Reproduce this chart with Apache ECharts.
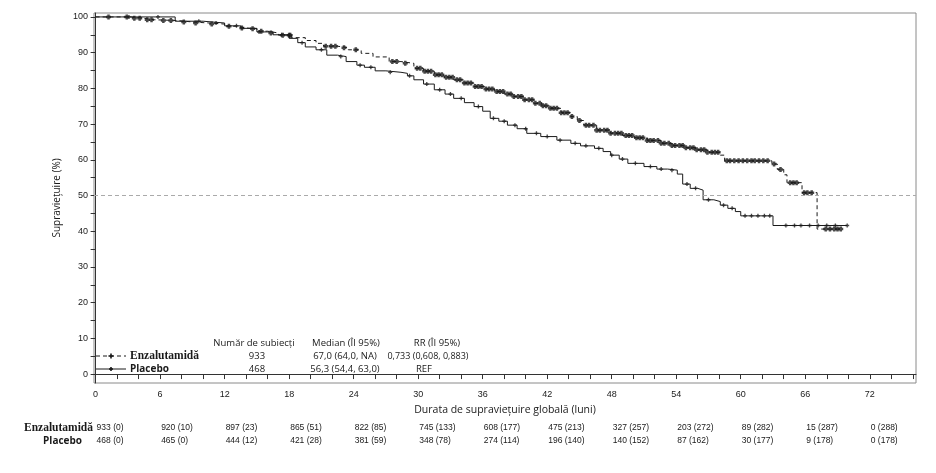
<!DOCTYPE html>
<html>
<head>
<meta charset="utf-8">
<script src="https://cdn.jsdelivr.net/npm/echarts@6/dist/echarts.min.js"></script>
<style>
html,body{margin:0;padding:0;background:#fff;}
#Charts{width:936px;height:473px;}
</style>
</head>
<body>
<div id="Charts"></div>
<script>
// Kaplan-Meier steps (months, survival %)
var enzTime = [0,3.3,4.5,5.5,7.5,9,10.5,12,13,14,15,16,17,18.2,19.5,20.5,21.2,22.5,23.5,24.7,25.8,27.3,28.4,29.6,30.5,31.5,32.4,33.3,34.2,35.2,36.2,37.1,38,38.9,39.8,40.8,41.5,42.3,43.3,44.2,44.8,45.4,46.6,47.9,49,50.1,51.3,52.6,53.6,54.7,55.8,56.9,58.1,58.5,62.9,63.4,64.0,64.3,65.7,67.1,69.3];
var enzSurv = [100,99.6,99.2,99.0,98.6,98.3,98.0,97.4,96.9,96.7,96.0,95.5,94.9,94.2,93.4,92.6,91.8,91.4,90.8,89.8,88.8,87.5,87.0,85.6,84.8,83.8,83.1,82.4,81.5,80.5,79.8,79.1,78.4,77.7,76.8,75.8,75.1,74.4,73.2,72.1,71.0,69.7,68.3,67.4,66.8,66.2,65.4,64.6,64.0,63.4,62.8,62.1,61.3,59.7,58.8,57.3,55.8,53.6,50.8,40.6,40.6];
var plaTime = [0,7.4,10,12,13.5,15,16.5,18,18.8,19.5,20.5,21.5,22.5,23.3,24.3,25,26,27,28.4,29,29.6,30.5,31.5,32.5,33.3,34.3,35.2,36,36.7,37.5,38.3,39.2,40.1,41.4,42.9,44.2,45.1,46.4,47.2,47.9,48.7,49.5,51,52.2,53.2,54.1,54.6,55.3,56,56.5,57.5,58.1,58.8,59.5,60,63,69.9];
var plaSurv = [100,98.8,98.3,97.5,96.8,95.8,95.0,94.0,92.8,91.6,90.8,89.3,88.9,87.5,86.5,85.9,84.9,84.5,84.2,83.5,82.4,81.2,79.6,78.4,77.2,76.0,74.9,73.6,71.6,70.8,69.7,68.7,67.4,66.5,65.5,64.6,63.9,63.2,62.3,61.3,60.2,59.0,58.1,57.4,57.1,56.0,53.2,52.0,51.5,48.8,48.3,47.3,46.4,45.5,44.3,41.6,41.6];

// censoring marks (months)
var enzCensor = [1.2,2.9,3.6,4.1,4.8,5.2,6.3,7.0,8.2,9.3,10.8,12.4,13.6,14.6,15.4,16.3,17.4,18.0,18.1,21.4,21.9,22.3,23.1,24.2,27.6,28.0,28.8,29.9,30.2,30.6,30.9,31.2,31.6,31.9,32.2,32.6,32.9,33.2,33.6,33.9,34.3,34.6,34.9,35.3,35.6,35.9,36.3,36.6,36.9,37.3,37.6,37.9,38.3,38.6,38.9,39.3,39.6,39.9,40.3,40.6,40.9,41.3,41.6,41.9,42.3,42.6,42.9,43.3,43.6,43.9,44.3,45.0,45.6,45.9,46.3,46.6,46.9,47.3,47.6,47.9,48.3,48.6,48.9,49.3,49.6,49.9,50.3,50.6,50.9,51.3,51.6,51.9,52.3,52.6,52.9,53.3,53.6,53.9,54.3,54.6,54.9,55.3,55.6,55.9,56.3,56.6,56.9,57.3,57.6,57.9,58.7,59.0,59.4,59.8,60.2,60.6,61.0,61.3,61.7,62.1,62.5,63.1,63.7,64.6,64.9,65.2,65.9,66.2,66.6,67.9,68.3,68.7,69.0,69.3];
var plaCensor = [3.1,5.8,9.6,11.2,13.1,15.2,17.3,19.2,21.0,22.8,24.6,25.6,27.4,29.2,30.8,32.0,33.0,34.0,35.6,37.0,38.0,39.0,40.0,41.0,42.0,43.2,44.6,45.6,46.8,48.0,49.0,50.2,51.6,52.6,53.6,55.0,55.8,57.0,58.4,59.2,60.4,61.0,61.6,62.2,62.7,64.2,65.0,65.6,66.4,67.2,68.0,68.8,69.9];

// numbers at risk (censored)
var riskTimes = [0,6,12,18,24,30,36,42,48,54,60,66,72];
var enzRisk = ['933 (0)','920 (10)','897 (23)','865 (51)','822 (85)','745 (133)','608 (177)','475 (213)','327 (257)','203 (272)','89 (282)','15 (287)','0 (288)'];
var plaRisk = ['468 (0)','465 (0)','444 (12)','421 (28)','381 (59)','348 (78)','274 (114)','196 (140)','140 (152)','87 (162)','30 (177)','9 (178)','0 (178)'];

var yLabels = [0,10,20,30,40,50,60,70,80,90,100];
var yTicks = [0,5,10,15,20,25,30,35,40,45,50,55,60,65,70,75,80,85,90,95,100];
var xLabels = [0,6,12,18,24,30,36,42,48,54,60,66,72];
var xTicks = [0,2,4,6,8,10,12,14,16,18,20,22,24,26,28,30,32,34,36,38,40,42,44,46,48,50,52,54,56,58,60,62,64,66,68,70,72,74,76];

function pairs(t, s){
	var out = [];
	for (var i = 0; i < t.length; i++) out.push([t[i], s[i]]);
	return out;
}
function survAt(t, s, x){
	var v = s[0];
	for (var i = 0; i < t.length; i++) { if (t[i] <= x) v = s[i]; }
	return v;
}
function censorPts(c, t, s){
	var out = [];
	for (var i = 0; i < c.length; i++) out.push([c[i], survAt(t, s, c[i])]);
	return out;
}

var plus = 'path://M1,0H2V1H3V2H2V3H1V2H0V1H1Z';
var fatPlus = 'path://M1,0H3V1H4V3H3V4H1V3H0V1H1Z';
var ink = '#1a1a1a';
var numFont = "'Liberation Sans', Arial, sans-serif";
var txtFont = "'Open Sans', 'Noto Sans', sans-serif";

var myChart = echarts.init(document.getElementById('Charts'));
var option = {
	animation: false,
	grid: {
		left: 94, right: 20, top: 13, bottom: 90,
		show: true, borderColor: '#8a8a8a', borderWidth: 1
	},
	xAxis: {
		type: 'value', min: -0.15, max: 76.3,
		name: 'Durata de supraviețuire globală (luni)',
		nameLocation: 'middle', nameGap: 22,
		nameTextStyle: { fontFamily: txtFont, fontSize: 10.5, color: ink },
		axisLine: { lineStyle: { color: '#333' } },
		axisTick: { customValues: xTicks, length: 5, lineStyle: { color: '#333' } },
		axisLabel: { customValues: xLabels, fontFamily: numFont, fontSize: 9, color: ink, margin: 7 },
		splitLine: { show: false }
	},
	yAxis: {
		type: 'value', min: -2.5, max: 101.1,
		name: 'Supraviețuire (%)',
		nameLocation: 'middle', nameGap: 27, nameRotate: 90,
		nameTextStyle: { fontFamily: txtFont, fontSize: 10, color: ink },
		axisLine: { show: true, lineStyle: { color: '#333' } },
		axisTick: { show: true, customValues: yTicks, length: 5, lineStyle: { color: '#333' } },
		axisLabel: { customValues: yLabels, fontFamily: numFont, fontSize: 9, color: ink, margin: 6 },
		splitLine: { show: false }
	},
	series: [
		{
			name: 'Placebo', type: 'line', step: 'end', showSymbol: false,
			data: pairs(plaTime, plaSurv),
			lineStyle: { color: ink, width: 1 },
			markLine: {
				silent: true, symbol: 'none', label: { show: false },
				lineStyle: { color: '#aaa', type: [4, 3], width: 1 },
				data: [{ yAxis: 50 }]
			}
		},
		{
			name: 'Enzalutamidă', type: 'line', step: 'end', showSymbol: false,
			data: pairs(enzTime, enzSurv),
			lineStyle: { color: ink, width: 1, type: [4, 3] }
		},
		{
			name: 'Placebo cenzurat', type: 'scatter', symbol: plus, symbolSize: 4,
			data: censorPts(plaCensor, plaTime, plaSurv),
			itemStyle: { color: ink }
		},
		{
			name: 'Enzalutamidă cenzurat', type: 'scatter', symbol: fatPlus, symbolSize: 5,
			data: censorPts(enzCensor, enzTime, enzSurv),
			itemStyle: { color: ink }
		}
	]
};
myChart.setOption(option);

// legend box + at-risk table as graphic text
var g = [];
function txt(x, y, s, opt){
	opt = opt || {};
	g.push({
		type: 'text', x: x, y: y, silent: true,
		style: {
			text: s, fill: ink,
			font: opt.font || ('9px ' + numFont),
			textAlign: opt.align || 'left', textVerticalAlign: 'middle'
		}
	});
}
function mark(cx, cy, r){
	g.push({ type: 'rect', silent: true, shape: { x: cx - r, y: cy - 0.8, width: 2 * r, height: 1.6 }, style: { fill: ink } });
	g.push({ type: 'rect', silent: true, shape: { x: cx - 0.8, y: cy - r, width: 1.6, height: 2 * r }, style: { fill: ink } });
}
// legend samples
g.push({ type: 'line', silent: true, shape: { x1: 96, y1: 356, x2: 126, y2: 356 }, style: { stroke: ink, lineWidth: 1, lineDash: [4, 3] } });
mark(111, 356, 2.5);
g.push({ type: 'line', silent: true, shape: { x1: 96, y1: 369, x2: 126, y2: 369 }, style: { stroke: ink, lineWidth: 1 } });
mark(111, 369, 2);
txt(130, 356, 'Enzalutamidă', { font: "bold 11.5px 'Liberation Serif', serif" });
txt(130, 369, 'Placebo', { font: "bold 10px " + txtFont });
txt(254, 343, 'Număr de subiecți', { font: '9.5px ' + txtFont, align: 'center' });
txt(346, 343, 'Median (ÎI 95%)', { font: '9.5px ' + txtFont, align: 'center' });
txt(437, 343, 'RR (ÎI 95%)', { font: '9.5px ' + txtFont, align: 'center' });
txt(257, 356, '933', { font: '9.5px ' + txtFont, align: 'center' });
txt(257, 369, '468', { font: '9.5px ' + txtFont, align: 'center' });
txt(345, 356, '67,0 (64,0, NA)', { font: '9.5px ' + txtFont, align: 'center' });
txt(345, 369, '56,3 (54,4, 63,0)', { font: '9.5px ' + txtFont, align: 'center' });
txt(428, 356, '0,733 (0,608, 0,883)', { font: '9px ' + txtFont, align: 'center' });
txt(424, 369, 'REF', { font: '9.5px ' + txtFont, align: 'center' });

// at-risk rows
txt(93, 428, 'Enzalutamidă', { font: "bold 11.5px 'Liberation Serif', serif", align: 'right' });
txt(82, 441, 'Placebo', { font: "bold 10px " + txtFont, align: 'right' });
for (var i = 0; i < riskTimes.length; i++) {
	var px = myChart.convertToPixel({ xAxisIndex: 0 }, riskTimes[i]);
	txt(px + 1, 428, enzRisk[i], { font: '8.5px ' + numFont });
	txt(px + 1, 441, plaRisk[i], { font: '8.5px ' + numFont });
}
myChart.setOption({ graphic: g });
</script>
</body>
</html>
